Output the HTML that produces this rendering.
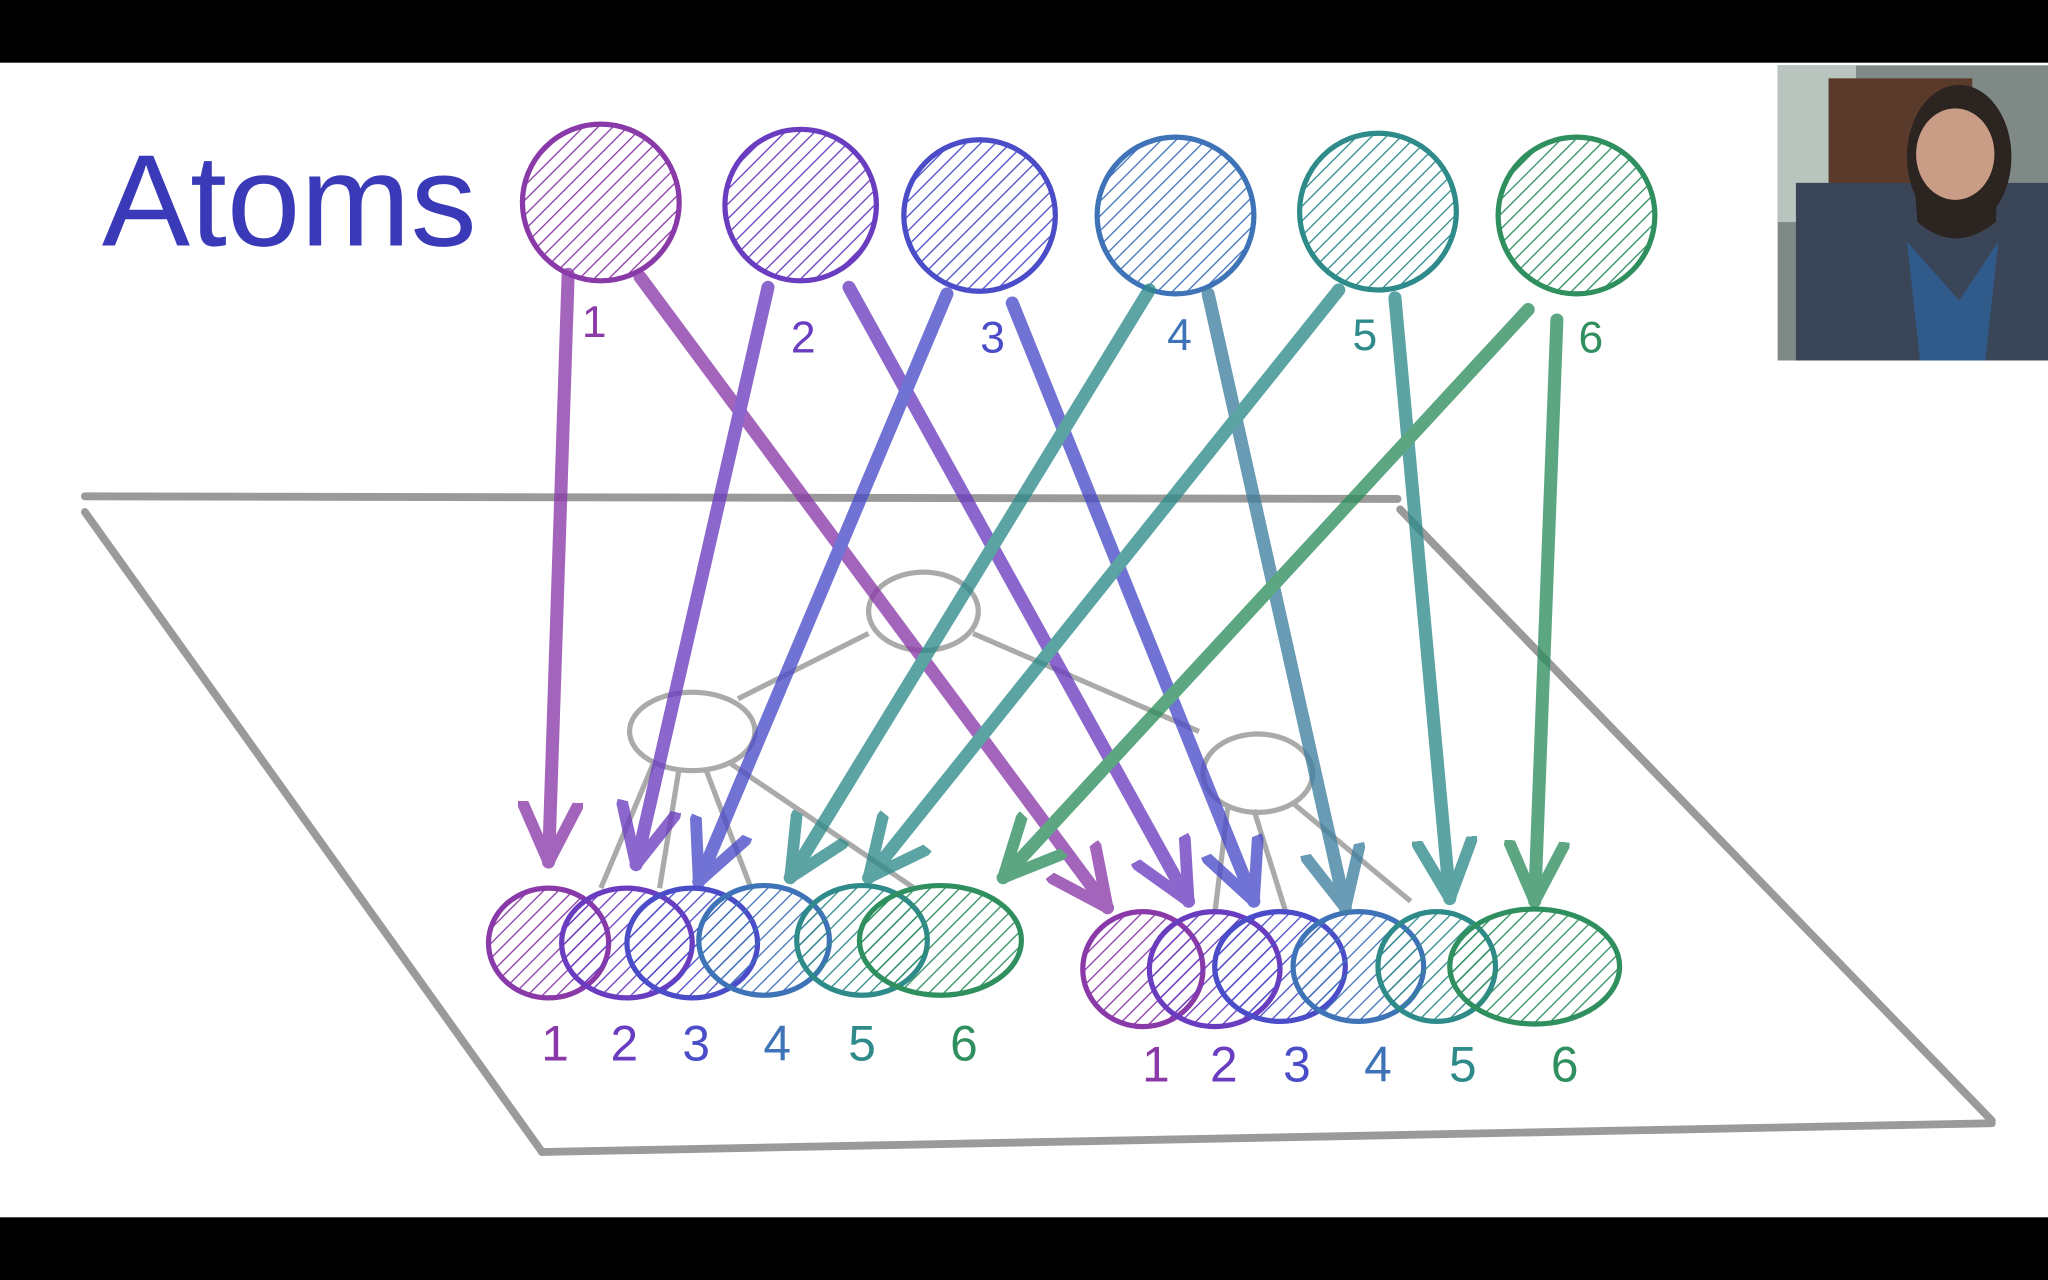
<!DOCTYPE html>
<html><head><meta charset="utf-8"><style>
html,body{margin:0;padding:0;background:#000;}
svg{display:block;}
</style></head><body>
<svg width="2048" height="1280" viewBox="0 0 1568 980" xmlns="http://www.w3.org/2000/svg">
<defs>
<pattern id="h1" width="8" height="8" patternUnits="userSpaceOnUse" patternTransform="rotate(45)"><line x1="0" y1="0" x2="0" y2="8" stroke="#8a3aa8" stroke-width="2"/></pattern>
<pattern id="h2" width="8" height="8" patternUnits="userSpaceOnUse" patternTransform="rotate(45)"><line x1="0" y1="0" x2="0" y2="8" stroke="#6a3cc0" stroke-width="2"/></pattern>
<pattern id="h3" width="8" height="8" patternUnits="userSpaceOnUse" patternTransform="rotate(45)"><line x1="0" y1="0" x2="0" y2="8" stroke="#4a4cc8" stroke-width="2"/></pattern>
<pattern id="h4" width="8" height="8" patternUnits="userSpaceOnUse" patternTransform="rotate(45)"><line x1="0" y1="0" x2="0" y2="8" stroke="#3f73b8" stroke-width="2"/></pattern>
<pattern id="h5" width="8" height="8" patternUnits="userSpaceOnUse" patternTransform="rotate(45)"><line x1="0" y1="0" x2="0" y2="8" stroke="#2f8a8a" stroke-width="2"/></pattern>
<pattern id="h6" width="8" height="8" patternUnits="userSpaceOnUse" patternTransform="rotate(45)"><line x1="0" y1="0" x2="0" y2="8" stroke="#2f8f5f" stroke-width="2"/></pattern>
<marker id="m1" viewBox="0 0 50 50" refX="46" refY="25" markerWidth="50" markerHeight="50" markerUnits="userSpaceOnUse" orient="auto"><path d="M2,4 L46,25 L2,46" stroke="#8a3aa8" stroke-width="9" fill="none" stroke-linecap="round"/></marker>
<marker id="m2" viewBox="0 0 50 50" refX="46" refY="25" markerWidth="50" markerHeight="50" markerUnits="userSpaceOnUse" orient="auto"><path d="M2,4 L46,25 L2,46" stroke="#6a3cc0" stroke-width="9" fill="none" stroke-linecap="round"/></marker>
<marker id="m3" viewBox="0 0 50 50" refX="46" refY="25" markerWidth="50" markerHeight="50" markerUnits="userSpaceOnUse" orient="auto"><path d="M2,4 L46,25 L2,46" stroke="#4a4cc8" stroke-width="9" fill="none" stroke-linecap="round"/></marker>
<marker id="m4" viewBox="0 0 50 50" refX="46" refY="25" markerWidth="50" markerHeight="50" markerUnits="userSpaceOnUse" orient="auto"><path d="M2,4 L46,25 L2,46" stroke="#2f8a8a" stroke-width="9" fill="none" stroke-linecap="round"/></marker>
<marker id="m5" viewBox="0 0 50 50" refX="46" refY="25" markerWidth="50" markerHeight="50" markerUnits="userSpaceOnUse" orient="auto"><path d="M2,4 L46,25 L2,46" stroke="#3f7fa0" stroke-width="9" fill="none" stroke-linecap="round"/></marker>
<marker id="m6" viewBox="0 0 50 50" refX="46" refY="25" markerWidth="50" markerHeight="50" markerUnits="userSpaceOnUse" orient="auto"><path d="M2,4 L46,25 L2,46" stroke="#2f8f5f" stroke-width="9" fill="none" stroke-linecap="round"/></marker>
</defs>
<rect x="0" y="0" width="1568" height="980" fill="#000"/>
<rect x="0" y="48" width="1568" height="884" fill="#fff"/>

<text x="78" y="188" font-family="Liberation Sans, sans-serif" font-size="100" fill="#3a3ab8" textLength="287" lengthAdjust="spacingAndGlyphs">Atoms</text>

<g stroke="#9a9a9a" stroke-width="6" fill="none" stroke-linecap="round">
<line x1="65" y1="380" x2="1070" y2="382"/>
<line x1="65" y1="392" x2="415" y2="882"/>
<line x1="415" y1="882" x2="1525" y2="860"/>
<line x1="1072" y1="390" x2="1525" y2="858"/>
</g>
<g stroke="#aaa" stroke-width="4" fill="none">
<ellipse cx="707" cy="468" rx="42" ry="30"/>
<ellipse cx="530" cy="560" rx="48" ry="30"/>
<ellipse cx="963" cy="592" rx="42" ry="30"/>
<line x1="665" y1="485" x2="565" y2="535"/>
<line x1="745" y1="485" x2="918" y2="560"/>
<line x1="500" y1="585" x2="460" y2="680"/>
<line x1="520" y1="588" x2="505" y2="680"/>
<line x1="540" y1="588" x2="575" y2="680"/>
<line x1="560" y1="585" x2="700" y2="680"/>
<line x1="940" y1="618" x2="930" y2="700"/>
<line x1="960" y1="620" x2="985" y2="700"/>
<line x1="990" y1="615" x2="1080" y2="690"/>
</g>

<g stroke-width="4">
<circle cx="460" cy="155" r="60" fill="url(#h1)" stroke="#8a3aa8"/>
<circle cx="613" cy="157" r="58" fill="url(#h2)" stroke="#6a3cc0"/>
<circle cx="750" cy="165" r="58" fill="url(#h3)" stroke="#4a4cc8"/>
<circle cx="900" cy="165" r="60" fill="url(#h4)" stroke="#3f73b8"/>
<circle cx="1055" cy="162" r="60" fill="url(#h5)" stroke="#2f8a8a"/>
<circle cx="1207" cy="165" r="60" fill="url(#h6)" stroke="#2f8f5f"/>
</g>
<g font-family="Liberation Sans, sans-serif" font-size="34" text-anchor="middle">
<text x="455" y="258" fill="#8a3aa8">1</text>
<text x="615" y="270" fill="#6a3cc0">2</text>
<text x="760" y="270" fill="#4a4cc8">3</text>
<text x="903" y="268" fill="#3f73b8">4</text>
<text x="1045" y="268" fill="#2f8a8a">5</text>
<text x="1218" y="270" fill="#2f8f5f">6</text>
</g>

<g stroke-width="4">
<ellipse cx="420" cy="722" rx="46" ry="42" fill="url(#h1)" stroke="#8a3aa8"/>
<ellipse cx="480" cy="722" rx="50" ry="42" fill="url(#h2)" stroke="#6a3cc0"/>
<ellipse cx="530" cy="722" rx="50" ry="42" fill="url(#h3)" stroke="#4a4cc8"/>
<ellipse cx="585" cy="720" rx="50" ry="42" fill="url(#h4)" stroke="#3f73b8"/>
<ellipse cx="660" cy="720" rx="50" ry="42" fill="url(#h5)" stroke="#2f8a8a"/>
<ellipse cx="720" cy="720" rx="62" ry="42" fill="url(#h6)" stroke="#2f8f5f"/>
<ellipse cx="875" cy="742" rx="46" ry="44" fill="url(#h1)" stroke="#8a3aa8"/>
<ellipse cx="930" cy="742" rx="50" ry="44" fill="url(#h2)" stroke="#6a3cc0"/>
<ellipse cx="980" cy="740" rx="50" ry="42" fill="url(#h3)" stroke="#4a4cc8"/>
<ellipse cx="1040" cy="740" rx="50" ry="42" fill="url(#h4)" stroke="#3f73b8"/>
<ellipse cx="1100" cy="740" rx="45" ry="42" fill="url(#h5)" stroke="#2f8a8a"/>
<ellipse cx="1175" cy="740" rx="65" ry="44" fill="url(#h6)" stroke="#2f8f5f"/>
</g>
<g font-family="Liberation Sans, sans-serif" font-size="38" text-anchor="middle">
<text x="425" y="812" fill="#8a3aa8">1</text>
<text x="478" y="812" fill="#6a3cc0">2</text>
<text x="533" y="812" fill="#4a4cc8">3</text>
<text x="595" y="812" fill="#3f73b8">4</text>
<text x="660" y="812" fill="#2f8a8a">5</text>
<text x="738" y="812" fill="#2f8f5f">6</text>
<text x="885" y="828" fill="#8a3aa8">1</text>
<text x="937" y="828" fill="#6a3cc0">2</text>
<text x="993" y="828" fill="#4a4cc8">3</text>
<text x="1055" y="828" fill="#3f73b8">4</text>
<text x="1120" y="828" fill="#2f8a8a">5</text>
<text x="1198" y="828" fill="#2f8f5f">6</text>
</g>

<g stroke-width="10" stroke-linecap="round" fill="none" opacity="0.78">
<line x1="435" y1="210" x2="420" y2="660" stroke="#8a3aa8" marker-end="url(#m1)"/>
<line x1="490" y1="212" x2="848" y2="695" stroke="#8a3aa8" marker-end="url(#m1)"/>
<line x1="588" y1="220" x2="487" y2="662" stroke="#6a3cc0" marker-end="url(#m2)"/>
<line x1="650" y1="220" x2="910" y2="690" stroke="#6a3cc0" marker-end="url(#m2)"/>
<line x1="725" y1="225" x2="535" y2="675" stroke="#4a4cc8" marker-end="url(#m3)"/>
<line x1="775" y1="232" x2="960" y2="690" stroke="#4a4cc8" marker-end="url(#m3)"/>
<line x1="880" y1="222" x2="605" y2="672" stroke="#2f8a8a" marker-end="url(#m4)"/>
<line x1="925" y1="225" x2="1030" y2="695" stroke="#3f7fa0" marker-end="url(#m5)"/>
<line x1="1025" y1="222" x2="665" y2="672" stroke="#2f8a8a" marker-end="url(#m4)"/>
<line x1="1068" y1="228" x2="1110" y2="688" stroke="#2f8a8a" marker-end="url(#m4)"/>
<line x1="1170" y1="237" x2="768" y2="672" stroke="#2f8f5f" marker-end="url(#m6)"/>
<line x1="1192" y1="245" x2="1175" y2="690" stroke="#2f8f5f" marker-end="url(#m6)"/>
</g>

<g>
<rect x="1361" y="50" width="207" height="226" fill="#7f8a86"/>
<rect x="1361" y="50" width="60" height="120" fill="#b9c4be"/>
<rect x="1400" y="60" width="110" height="110" fill="#5a3a2a"/>
<rect x="1375" y="140" width="193" height="136" fill="#3a4658"/>
<ellipse cx="1500" cy="120" rx="40" ry="55" fill="#2b2420"/>
<ellipse cx="1497" cy="118" rx="30" ry="35" fill="#c99c85"/>
<path d="M1465 130 Q1497 200 1530 130 L1528 170 Q1497 195 1468 170Z" fill="#2b2420"/>
<path d="M1460 185 L1500 230 L1530 185 L1520 276 L1470 276Z" fill="#2f5a8a"/>
</g>
</svg>
</body></html>
